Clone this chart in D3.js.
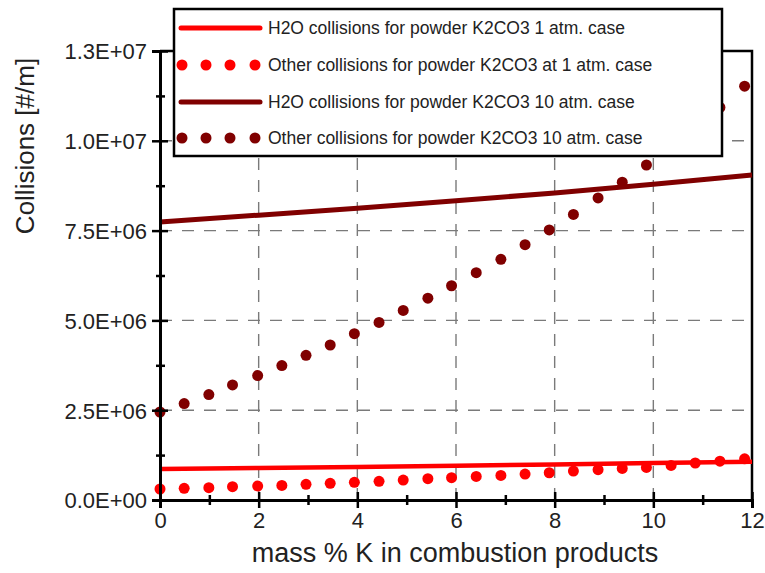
<!DOCTYPE html>
<html>
<head>
<meta charset="utf-8">
<script src="https://cdn.jsdelivr.net/npm/d3@7"></script>
<style>
  html, body { margin: 0; padding: 0; background: #ffffff; }
  svg { display: block; font-family: "Liberation Sans", Arial, sans-serif; }
</style>
</head>
<body>
<svg id="chart" width="765" height="573"></svg>
<script>
// ---------------- data ----------------
const massK = [0, 0.49, 0.99, 1.47, 1.98, 2.47, 2.96, 3.45, 3.94, 4.44, 4.93, 5.43, 5.91,
               6.41, 6.91, 7.40, 7.89, 8.38, 8.88, 9.37, 9.86, 10.36, 10.85, 11.35, 11.85];
const other1atm = [0.306e6, 0.324e6, 0.343e6, 0.370e6, 0.389e6, 0.407e6, 0.435e6, 0.463e6, 0.491e6,
                   0.519e6, 0.556e6, 0.593e6, 0.620e6, 0.657e6, 0.685e6, 0.722e6, 0.759e6, 0.806e6,
                   0.843e6, 0.880e6, 0.907e6, 0.963e6, 1.030e6, 1.080e6, 1.145e6];
const other10atm = [2.45e6, 2.685e6, 2.935e6, 3.204e6, 3.463e6, 3.741e6, 4.028e6, 4.315e6, 4.63e6,
                    4.944e6, 5.278e6, 5.62e6, 5.965e6, 6.33e6, 6.70e6, 7.107e6, 7.519e6, 7.949e6,
                    8.408e6, 8.848e6, 9.326e6, 9.85e6, 10.38e6, 10.93e6, 11.52e6];
const lineX = [0, 2, 4, 6, 8, 10, 12];
const h2o1atm = [0.86e6, 0.89e6, 0.92e6, 0.955e6, 0.99e6, 1.027e6, 1.065e6];
const h2o10atm = [7.74e6, 7.93e6, 8.12e6, 8.33e6, 8.55e6, 8.79e6, 9.045e6];

const xTicks = [0, 2, 4, 6, 8, 10, 12];
const xMinorTicks = [1, 3, 5, 7, 9, 11];
const yTicks = [0, 2.5e6, 5e6, 7.5e6, 1e7, 1.25e7];
const yTickLabels = ["0.0E+00", "2.5E+06", "5.0E+06", "7.5E+06", "1.0E+07", "1.3E+07"];
const yMinorTicks = [1.25e6, 3.75e6, 6.25e6, 8.75e6, 1.125e7];

const legendLabels = [
  "H2O collisions for powder K2CO3 1 atm. case",
  "Other collisions for powder K2CO3 at 1 atm. case",
  "H2O collisions for powder K2CO3 10 atm. case",
  "Other collisions for powder K2CO3 10 atm. case"
];

const xTitle = "mass % K in combustion products";
const yTitle = "Collisions [#/m]";

// ---------------- styles ----------------
const RED = "#ff0000";
const DARK = "#800000";

// ---------------- layout ----------------
const L = 160, R = 752, T = 51, B = 500;
const svg = d3.select("#chart");

const x = d3.scaleLinear().domain([0, 12]).range([L, R]);
const y = d3.scaleLinear().domain([0, 1.25e7]).range([B, T]);

// grid
const grid = svg.append("g").attr("stroke", "#7a7a7a").attr("stroke-width", 1.4)
  .attr("stroke-dasharray", "12,10");
grid.selectAll("line.gx").data(xTicks.slice(1, -1)).join("line")
  .attr("x1", d => x(d)).attr("x2", d => x(d)).attr("y1", B).attr("y2", T);
grid.selectAll("line.gy").data(yTicks.slice(1, -1)).join("line")
  .attr("y1", d => y(d)).attr("y2", d => y(d)).attr("x1", L).attr("x2", R);

// frame (top & right)
svg.append("path")
  .attr("d", `M${L},${T}H${R}V${B}`)
  .attr("fill", "none").attr("stroke", "#000").attr("stroke-width", 2.5);

// lines
const lineGen = d3.line().x(d => x(d[0])).y(d => y(d[1]));
svg.append("path").datum(lineX.map((v, i) => [v, h2o1atm[i]]))
  .attr("d", lineGen).attr("fill", "none").attr("stroke", RED).attr("stroke-width", 4.5);
svg.append("path").datum(lineX.map((v, i) => [v, h2o10atm[i]]))
  .attr("d", lineGen).attr("fill", "none").attr("stroke", DARK).attr("stroke-width", 5);

// dots
svg.append("g").selectAll("circle").data(massK.map((v, i) => [v, other1atm[i]])).join("circle")
  .attr("cx", d => x(d[0])).attr("cy", d => y(d[1])).attr("r", 5.5).attr("fill", RED);
svg.append("g").selectAll("circle").data(massK.map((v, i) => [v, other10atm[i]])).join("circle")
  .attr("cx", d => x(d[0])).attr("cy", d => y(d[1])).attr("r", 5.5).attr("fill", DARK);

// axes
const yAxis = svg.append("g").attr("transform", `translate(${L},0)`)
  .call(d3.axisLeft(y).tickValues(yTicks).tickFormat((d, i) => yTickLabels[i]).tickSize(8).tickPadding(5));
yAxis.selectAll(".tick line").attr("x1", 8);
const yMinor = svg.append("g").attr("transform", `translate(${L},0)`)
  .call(d3.axisLeft(y).tickValues(yMinorTicks).tickFormat("").tickSize(4));
yMinor.selectAll(".tick line").attr("x1", 5);
yMinor.select(".domain").remove();

const xAxis = svg.append("g").attr("transform", `translate(0,${B})`)
  .call(d3.axisBottom(x).tickValues(xTicks).tickFormat(d3.format("d")).tickSize(8).tickPadding(4));
xAxis.selectAll(".tick line").attr("y1", -8);
const xMinor = svg.append("g").attr("transform", `translate(0,${B})`)
  .call(d3.axisBottom(x).tickValues(xMinorTicks).tickFormat("").tickSize(5));
xMinor.selectAll(".tick line").attr("y1", -5);
xMinor.select(".domain").remove();

[yAxis, xAxis].forEach(g => {
  g.select(".domain").attr("stroke", "#000").attr("stroke-width", 3);
});
svg.selectAll(".tick line").attr("stroke", "#000").attr("stroke-width", 2.5);
svg.selectAll(".tick text").attr("fill", "#222").attr("font-size", 22)
  .attr("font-family", "'Liberation Sans', Arial, sans-serif");
yAxis.selectAll(".tick text").attr("dy", "0.36em");

// titles
svg.append("text").attr("x", (L + R) / 2 - 1).attr("y", 562)
  .attr("text-anchor", "middle").attr("font-size", 27).attr("fill", "#222").text(xTitle);
svg.append("text").attr("transform", "translate(34,146) rotate(-90)")
  .attr("text-anchor", "middle").attr("font-size", 26).attr("fill", "#222").text(yTitle);

// legend
const lg = svg.append("g");
lg.append("rect").attr("x", 174).attr("y", 9).attr("width", 548).attr("height", 147)
  .attr("fill", "#fff").attr("stroke", "#000").attr("stroke-width", 2.5);
const rowY = [28, 65, 102, 138];
const kinds = [["line", RED], ["dots", RED], ["line", DARK], ["dots", DARK]];
kinds.forEach((k, i) => {
  if (k[0] === "line") {
    lg.append("line").attr("x1", 181).attr("x2", 260).attr("y1", rowY[i]).attr("y2", rowY[i])
      .attr("stroke", k[1]).attr("stroke-width", 5).attr("stroke-linecap", "round");
  } else {
    [182, 206, 230, 255].forEach(cx => lg.append("circle").attr("cx", cx).attr("cy", rowY[i])
      .attr("r", 5.5).attr("fill", k[1]));
  }
  lg.append("text").attr("x", 268).attr("y", rowY[i]).attr("dy", "0.36em")
    .attr("font-size", 17.5).attr("fill", "#222").text(legendLabels[i]);
});
</script>
</body>
</html>
